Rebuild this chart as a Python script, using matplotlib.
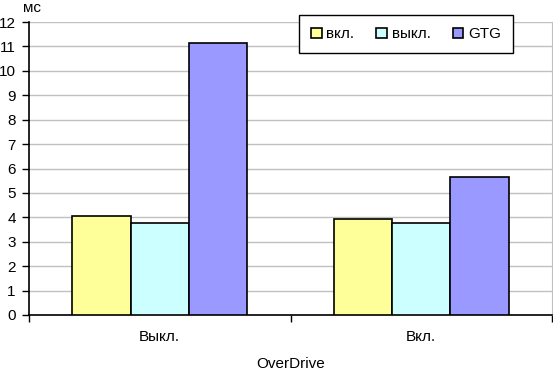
import matplotlib
matplotlib.use('Agg')
import matplotlib.pyplot as plt
import numpy as np

# Response time, ms
categories = ['Выкл.', 'Вкл.']
series_names = ['вкл.', 'выкл.', 'GTG']
values_on = [4.05, 3.92]
values_off = [3.75, 3.75]
values_gtg = [11.13, 5.64]
colors = ['#ffff99', '#ccffff', '#9999ff']

plt.rcParams['font.family'] = ['Liberation Sans', 'DejaVu Sans']
plt.rcParams['font.size'] = 11

fig = plt.figure(figsize=(5.53, 3.71), dpi=100)
ax = fig.add_axes([29 / 553, 1 - 315 / 371, 523 / 553, 293 / 371])

x = np.arange(len(categories))
width = 0.223
for i, (vals, name, color) in enumerate(zip([values_on, values_off, values_gtg], series_names, colors)):
    ax.bar(x + (i - 1) * width, vals, width, color=color, edgecolor='black',
           linewidth=1.2, label=name, zorder=3)

ax.set_xlim(-0.5, 1.5)
ax.set_ylim(0, 12)
ax.set_yticks(range(0, 13))
ax.yaxis.grid(True, color='#c0c0c0', linewidth=1, zorder=0)

ax.set_xticks([-0.5, 0.5, 1.5])
ax.set_xticklabels([])
ax.set_xticks(x, minor=True)
ax.set_xticklabels(categories, minor=True)
ax.tick_params(axis='x', which='major', direction='out', length=5, width=1)
ax.tick_params(axis='x', which='minor', length=0, pad=11)
ax.tick_params(axis='y', direction='out', length=5, width=1, pad=4.5)

ax.spines['top'].set_visible(False)
ax.spines['right'].set_color('#c0c0c0')
ax.spines['left'].set_linewidth(1.2)
ax.spines['bottom'].set_linewidth(1.2)

ax.set_xlabel('OverDrive', labelpad=9)
fig.text(23 / 553, 1 - 8 / 371, 'мс', ha='left', va='center')

leg = ax.legend(ncol=3, loc='upper right', bbox_to_anchor=(484 / 523, 1 + 7 / 293),
                borderaxespad=0, frameon=True, fancybox=False, edgecolor='black',
                framealpha=1, handlelength=0.7, handleheight=0.7, handletextpad=0.3,
                columnspacing=1.45, borderpad=0.8)
leg.get_frame().set_linewidth(1)
leg.set_zorder(5)

fig.savefig('out.png', dpi=100)
